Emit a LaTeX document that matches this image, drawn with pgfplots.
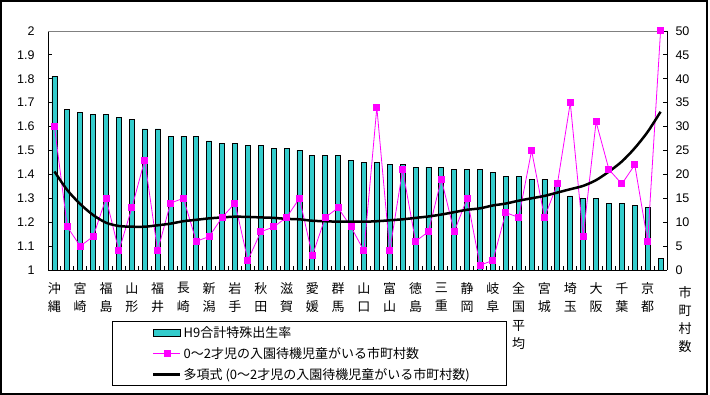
\documentclass[border=0pt]{standalone}
\usepackage{fontspec}
\setmainfont{Liberation Sans}
\newfontfamily\jp{Noto Sans CJK JP}
\usepackage{pgfplots}
\pgfplotsset{compat=1.18}
\definecolor{turq}{RGB}{51,204,204}
\definecolor{mag}{RGB}{255,0,255}
\begin{document}
\begin{tikzpicture}[x=1pt,y=1pt]
\path[use as bounding box] (0,0) rectangle (710,395);
\draw[line width=2pt] (1,0.8) rectangle (707.3,394);
\begin{axis}[
  at={(48pt,125pt)}, anchor=south west, scale only axis,
  width=619pt, height=239pt,
  xmin=-0.5, xmax=47.5, ymin=1, ymax=2,
  axis x line*=bottom, axis y line*=left,
  axis line style={line width=0.8pt, black, -},
  tick align=inside, major tick length=4pt, minor tick length=4pt,
  tick style={black, line width=0.8pt},
  xtick={0,2,...,46},
  major x tick style={draw=none},
  minor xtick={-0.5,0.5,...,47.5},
  xticklabels={{沖\\縄},{宮\\崎},{福\\島},{山\\形},{福\\井},{長\\崎},{新\\潟},{岩\\手},{秋\\田},{滋\\賀},{愛\\媛},{群\\馬},{山\\口},{富\\山},{徳\\島},{三\\重},{静\\岡},{岐\\阜},{全\\国\\平\\均},{宮\\城},{埼\\玉},{大\\阪},{千\\葉},{京\\都}},
  xticklabel style={align=center, font=\jp\fontsize{13}{18.3}\selectfont, yshift=-9pt},
  ytick={1,1.1,1.2,1.3,1.4,1.5,1.6,1.7,1.8,1.9,2},
  yticklabels={1,1.1,1.2,1.3,1.4,1.5,1.6,1.7,1.8,1.9,2},
  yticklabel style={font=\fontsize{12.5}{14}\selectfont, xshift=-10pt},
]
\addplot[ybar, bar width=5pt, bar shift=0pt, fill=turq, draw=black, line width=0.8pt] coordinates {
(0,1.81) (1,1.67) (2,1.66) (3,1.65) (4,1.65) (5,1.64) (6,1.63) (7,1.59)
(8,1.59) (9,1.56) (10,1.56) (11,1.56) (12,1.54) (13,1.53) (14,1.53) (15,1.52)
(16,1.52) (17,1.51) (18,1.51) (19,1.50) (20,1.48) (21,1.48) (22,1.48) (23,1.46)
(24,1.45) (25,1.45) (26,1.44) (27,1.44) (28,1.43) (29,1.43) (30,1.43) (31,1.42)
(32,1.42) (33,1.42) (34,1.41) (35,1.39) (36,1.39) (37,1.38) (38,1.38) (39,1.37)
(40,1.31) (41,1.30) (42,1.30) (43,1.28) (44,1.28) (45,1.27) (46,1.26) (47,1.05)
};
\draw[gray, line width=0.8pt] (rel axis cs:0,1) -- (rel axis cs:1,1);
\end{axis}
\begin{axis}[
  at={(48pt,125pt)}, anchor=south west, scale only axis,
  width=619pt, height=239pt,
  xmin=-0.5, xmax=47.5, ymin=0, ymax=50,
  axis x line=none, axis y line*=right,
  axis line style={line width=0.8pt, black, -},
  tick align=inside, major tick length=4pt,
  tick style={black, line width=0.8pt},
  ytick={0,5,...,50},
  /pgf/number format/assume math mode=true,
  yticklabel style={font=\fontsize{12.5}{14}\selectfont, xshift=5pt},
  clip=false,
  legend cell align=left,
  legend style={at={(axis description cs:0.1034,-0.2134)}, anchor=north west,
    draw=black, line width=0.8pt, fill=white,
    font=\jp\fontsize{13}{15}\selectfont,
    inner ysep=3pt, row sep=4.5pt},
]
\addlegendimage{legend image code/.code={\path[draw=none,fill=none] (-38pt,0pt) -- (0pt,0pt); \draw[fill=turq, draw=black, line width=0.8pt] (0pt,-3.5pt) rectangle (27pt,3.5pt);}}
\addlegendentry{H9合計特殊出生率}
\addlegendimage{legend image code/.code={\path[draw=none,fill=none] (-38pt,0pt) -- (0pt,0pt); \draw[mag, line width=0.8pt] (0pt,0pt) -- (27pt,0pt); \fill[mag] (10.5pt,-3pt) rectangle (16.5pt,3pt);}}
\addlegendentry{0～2才児の入園待機児童がいる市町村数}
\addlegendimage{legend image code/.code={\path[draw=none,fill=none] (-38pt,0pt) -- (0pt,0pt); \draw[black, line width=2.5pt] (0pt,0pt) -- (27pt,0pt);}}
\addlegendentry{多項式 (0～2才児の入園待機児童がいる市町村数)\rule{32pt}{0pt}}
\addplot[mag, line width=0.8pt, mark=square*, mark size=3pt, mark options={fill=mag, draw=mag, line width=0pt}, forget plot] coordinates {
(0,30) (1,9) (2,5) (3,7) (4,15) (5,4) (6,13) (7,23)
(8,4) (9,14) (10,15) (11,6) (12,7) (13,11) (14,14) (15,2)
(16,8) (17,9) (18,11) (19,15) (20,3) (21,11) (22,13) (23,9)
(24,4) (25,34) (26,4) (27,21) (28,6) (29,8) (30,19) (31,8)
(32,15) (33,1) (34,2) (35,12) (36,11) (37,25) (38,11) (39,18)
(40,35) (41,7) (42,31) (43,21) (44,18) (45,22) (46,6) (47,50)
};
\addplot[black, line width=2.5pt, smooth, forget plot] coordinates {
(0,20.6) (1,16.7) (2,13.8) (3,11.5) (4,9.9) (5,9.2) (6,9.06) (7,9.06)
(8,9.35) (9,9.7) (10,10.2) (11,10.5) (12,10.8) (13,11.0) (14,11.15) (15,11.1)
(16,11.0) (17,10.9) (18,10.7) (19,10.6) (20,10.3) (21,10.2) (22,10.1) (23,10.1)
(24,10.1) (25,10.2) (26,10.4) (27,10.6) (28,10.9) (29,11.2) (30,11.6) (31,12.1)
(32,12.6) (33,12.9) (34,13.5) (35,13.9) (36,14.5) (37,15.0) (38,15.5) (39,16.2)
(40,16.9) (41,17.6) (42,18.8) (43,20.6) (44,22.7) (45,25.5) (46,28.9) (47,33.1)
};
\end{axis}
\node[anchor=north, align=center, inner sep=0pt, font=\jp\fontsize{13}{18}\selectfont] at (685,109) {市\\町\\村\\数};
\end{tikzpicture}
\end{document}
